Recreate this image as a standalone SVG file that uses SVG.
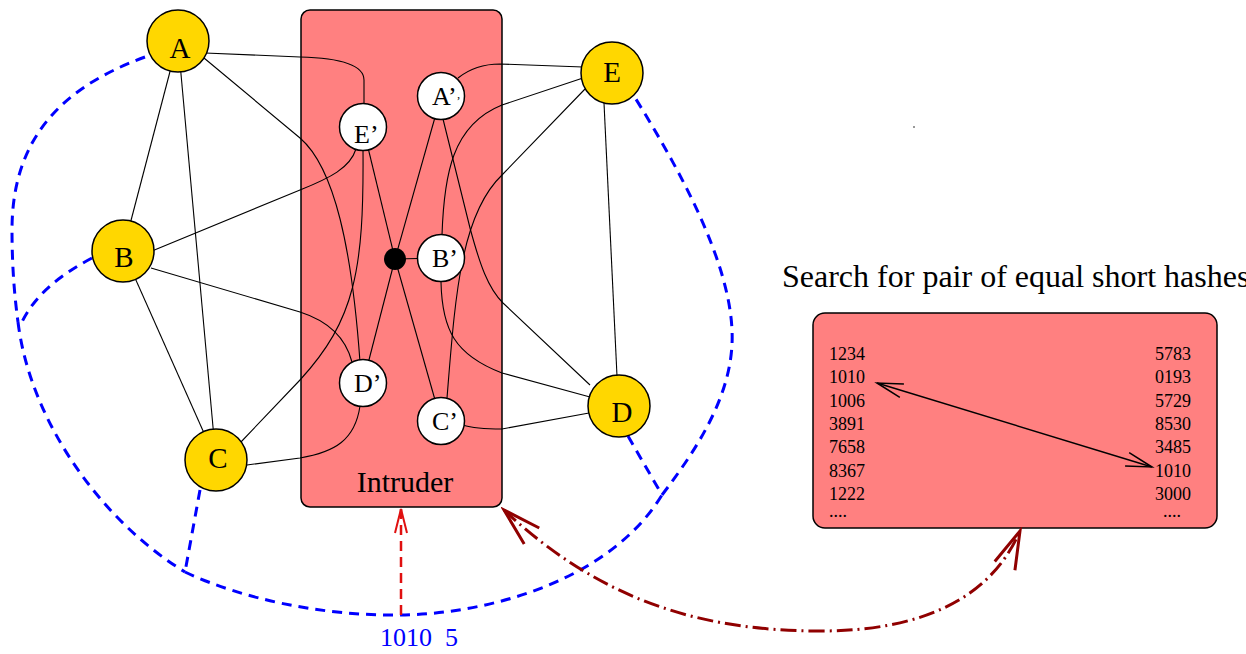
<svg xmlns="http://www.w3.org/2000/svg" width="1246" height="654" viewBox="0 0 1246 654">
<style>
text { font-family: "Liberation Serif", "Times New Roman", serif; fill:#000; }
.big { font-size:29px; text-anchor:middle; }
.prime { font-size:26px; }
.yel { fill:#ffd700; stroke:#000; stroke-width:1.5; }
.wht { fill:#fff; stroke:#000; stroke-width:1.5; }
.e { fill:none; stroke:#000; stroke-width:1.1; }
.blue { fill:none; stroke:#0000ff; stroke-width:3; stroke-dasharray:10 7; }
.red { fill:none; stroke:#e01010; stroke-width:2.5; stroke-dasharray:10 6; }
.dark { fill:none; stroke:#900000; stroke-width:3; stroke-dasharray:16 5 2 5; }
.box { fill:#ff8080; stroke:#000; stroke-width:1.5; }
.num { font-size:18px; }
</style>
<defs>
<marker id="mRed" markerUnits="userSpaceOnUse" viewBox="-30 -10 34 20" markerWidth="34" markerHeight="20" refX="0" refY="0" orient="auto">
<path d="M-24,-6 L0,0 L-24,6" fill="none" stroke="#e01010" stroke-width="2"/>
</marker>
<marker id="mDark" markerUnits="userSpaceOnUse" viewBox="-44 -16 48 32" markerWidth="48" markerHeight="32" refX="0" refY="0" orient="auto-start-reverse">
<path d="M-38,-11 L0,0 L-38,11" fill="none" stroke="#900000" stroke-width="3"/>
</marker>
<marker id="mBlk" markerUnits="userSpaceOnUse" viewBox="-30 -10 34 20" markerWidth="34" markerHeight="20" refX="0" refY="0" orient="auto-start-reverse">
<path d="M-26,-7 L0,0 L-26,7" fill="none" stroke="#000" stroke-width="1.5"/>
</marker>
</defs>

<g id="intruder">
<rect class="box" x="301" y="10" width="201" height="497" rx="9"/>
<text x="405" y="492" font-size="30" text-anchor="middle">Intruder</text>
</g>

<g id="hashbox">
<text x="782" y="287" font-size="32">Search for pair of equal short hashes</text>
<rect class="box" x="813" y="313" width="404" height="215" rx="12"/>
<g class="num">
<text x="829" y="360">1234</text>
<text x="829" y="383">1010</text>
<text x="829" y="407">1006</text>
<text x="829" y="430">3891</text>
<text x="829" y="453">7658</text>
<text x="829" y="477">8367</text>
<text x="829" y="500">1222</text>
<text x="829" y="517">....</text>
<text x="1155" y="360">5783</text>
<text x="1155" y="383">0193</text>
<text x="1155" y="407">5729</text>
<text x="1155" y="430">8530</text>
<text x="1155" y="453">3485</text>
<text x="1155" y="477">1010</text>
<text x="1155" y="500">3000</text>
<text x="1163" y="517">....</text>
</g>
</g>

<g id="connectors">
<line class="e" x1="178" y1="41" x2="123" y2="251"/>
<line class="e" x1="178" y1="41" x2="216" y2="460"/>
<line class="e" x1="123" y1="251" x2="216" y2="460"/>
<line class="e" x1="604" y1="103" x2="617" y2="376"/>
<path class="e" d="M205,53 L300,57 C340,58 364,65 364,80 L364,104"/>
<path class="e" d="M204,58 L300,138 C335,168 352,250 360,362"/>
<path class="e" d="M152,251 L300,190 C330,178 350,168 356,149"/>
<path class="e" d="M151,268 L300,312 C325,320 345,335 352,362"/>
<path class="e" d="M240,443 L300,380 C355,320 364,270 363,150"/>
<path class="e" d="M247,465 L300,458 C335,452 355,440 360,406"/>
<path class="e" d="M458,78 C468,70 480,64 500,64 L583,67"/>
<path class="e" d="M443,119 L470,228 C480,265 488,288 503,303 L590,385"/>
<path class="e" d="M442,235 C444,175 452,125 502,105 L583,78"/>
<path class="e" d="M441,282 C442,330 455,355 502,373 L590,397"/>
<path class="e" d="M447,398 C455,300 460,215 502,175 L585,89"/>
<path class="e" d="M463,425 C475,429 490,429 502,429 L589,413"/>
<line class="e" x1="363" y1="127" x2="395" y2="259"/>
<line class="e" x1="441" y1="96" x2="395" y2="259"/>
<line class="e" x1="395" y1="259" x2="363" y2="383"/>
<line class="e" x1="395" y1="259" x2="441" y2="421"/>
<line class="e" x1="395" y1="259" x2="441" y2="258"/>
<path class="blue" d="M145,57 C60,88 12,140 12,230 C12,270 15,300 18,322"/>
<path class="blue" d="M92,258 C60,275 35,295 22,322"/>
<path class="blue" d="M18,322 C30,420 100,520 185,572"/>
<path class="blue" d="M200,490 L185,572"/>
<path class="blue" d="M185,572 C240,598 320,616 400,615 C490,614 610,580 662,495"/>
<path class="blue" d="M662,495 C700,445 735,390 732,330 C729,260 680,170 634,96"/>
<path class="blue" d="M628,436 L662,495"/>
<path class="red" d="M401,615 L401,509" marker-end="url(#mRed)"/>
<path class="dark" d="M504,510 C600,600 700,631 820,631 C920,631 990,600 1020,531" marker-start="url(#mDark)" marker-end="url(#mDark)"/>
<line x1="877" y1="383" x2="1152" y2="467" stroke="#000" stroke-width="1.5" marker-start="url(#mBlk)" marker-end="url(#mBlk)"/>
</g>

<g id="node-A"><circle class="yel" cx="178" cy="41" r="31"/><text class="big" x="180" y="58">A</text></g>
<g id="node-B"><circle class="yel" cx="123" cy="251" r="31"/><text class="big" x="124" y="267">B</text></g>
<g id="node-C"><circle class="yel" cx="216" cy="460" r="31"/><text class="big" x="218" y="468">C</text></g>
<g id="node-D"><circle class="yel" cx="619" cy="406" r="31"/><text class="big" x="622" y="422">D</text></g>
<g id="node-E"><circle class="yel" cx="612" cy="73" r="31"/><text class="big" x="612" y="82">E</text></g>

<g id="node-Ep"><circle class="wht" cx="363" cy="127" r="23.5"/><text class="prime" x="354" y="143">E’</text></g>
<g id="node-Ap"><circle class="wht" cx="441" cy="96" r="23.5"/><text class="prime" x="432" y="105">A’<tspan font-size="12">’</tspan></text></g>
<g id="node-Bp"><circle class="wht" cx="441" cy="258" r="23.5"/><text class="prime" x="432" y="267">B’</text></g>
<g id="node-Dp"><circle class="wht" cx="363" cy="383" r="23.5"/><text class="prime" x="354" y="392">D’</text></g>
<g id="node-Cp"><circle class="wht" cx="441" cy="421" r="23.5"/><text class="prime" x="432" y="430">C’</text></g>
<g id="node-hub"><circle cx="395" cy="259" r="11" fill="#000"/></g>

<g id="label-1010">
<text x="380" y="646" font-size="26" style="fill:#0000ff; white-space:pre">1010  5</text>
</g>
<rect x="913" y="126" width="2" height="2" fill="#999"/>
</svg>
